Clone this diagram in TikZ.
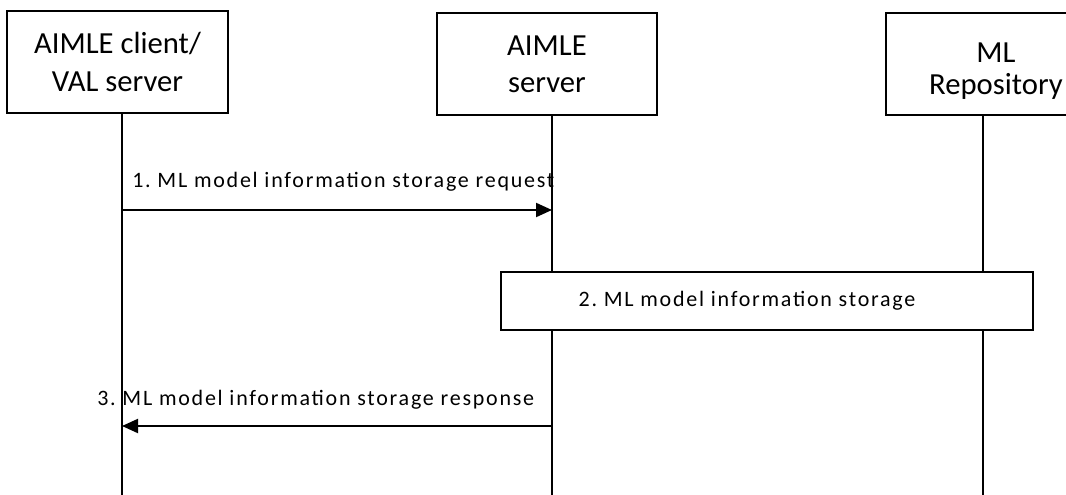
\documentclass[tikz,border=0pt]{standalone}
\usepackage{fontspec}
\setmainfont{Carlito}
\usepackage{tikz}
\usetikzlibrary{arrows.meta, positioning, calc}

\frenchspacing
\tikzset{
	entity/.style={draw, line width=1.5pt, fill=white, align=center, inner sep=0pt,
		minimum height=76.5pt, font=\fontsize{23}{28}\selectfont},
	lifeline/.style={line width=1.5pt},
	msg/.style={line width=1.5pt, -{Triangle[length=12pt,width=10.5pt]}},
	msglabel/.style={anchor=base west, inner sep=0pt,
		font=\fontsize{16.5}{20}\selectfont\addfontfeature{LetterSpace=8}},
	action/.style={draw, line width=0.8pt, fill=white, inner sep=0pt,
		minimum width=399pt, minimum height=43.5pt,
		font=\fontsize{16.5}{20}\selectfont\addfontfeature{LetterSpace=8}}
}
\newcommand{\lowline}[1]{\raisebox{-11pt}[0pt][0pt]{#1}}

\begin{document}
\begin{tikzpicture}[x=0.75pt, y=-0.75pt]
			
			\useasboundingbox (0,0) rectangle (1066,495);
			
			% Entities
			\node[entity, minimum width=165.75pt] (client) at (117.5,62) {AIMLE client/\\VAL server};
			\node[entity, minimum width=165pt] (server) at (547,64.5) {AIMLE\\server};
			\node[entity, minimum width=165pt, font=\fontsize{23}{24}\selectfont] (repo) at (996,64) {\lowline{ML}\\\lowline{Repository}};
			
			% Lifelines
			\coordinate (clientEnd) at (122,500);
			\coordinate (serverEnd) at (552,500);
			\coordinate (repoEnd) at (983,500);
			\draw[lifeline] (client.south -| clientEnd) -- (clientEnd);
			\draw[lifeline] (server.south -| serverEnd) -- (serverEnd);
			\draw[lifeline] (repo.south -| repoEnd) -- (repoEnd);
			
			% 1. request
			\coordinate (req1) at (122,210);
			\coordinate (req2) at (552,210);
			\draw[msg] (req1) -- (req2);
			\node[msglabel] (reqlabel) at (132,188) {1. ML model information storage request};
			
			% 2. storage
			\node[action] (storage) at (767,301) {\hspace*{-30pt}2. ML model information storage};
			
			% 3. response
			\coordinate (resp1) at (552,426);
			\coordinate (resp2) at (122,426);
			\draw[msg] (resp1) -- (resp2);
			\node[msglabel] (resplabel) at (97,405) {3. ML model information storage response};
			
		\end{tikzpicture}
\end{document}
